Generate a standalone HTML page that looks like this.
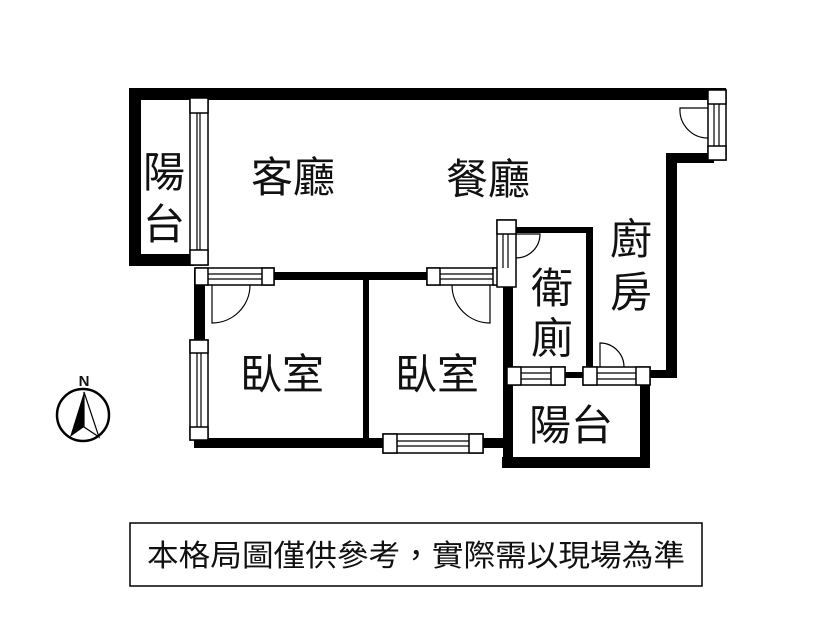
<!DOCTYPE html>
<html><head><meta charset="utf-8"><style>
html,body{margin:0;padding:0;background:#fff;}
svg{display:block}
text{font-family:"Liberation Sans","Noto Sans CJK TC",sans-serif;fill:#111}
</style></head><body>
<svg width="832" height="643" viewBox="0 0 832 643" xmlns="http://www.w3.org/2000/svg">
<g fill="#000">
<rect x="129" y="88" width="597" height="12"/>
<rect x="129" y="88" width="12" height="178"/>
<rect x="129" y="254" width="65" height="12"/>
<rect x="194" y="272" width="311" height="8"/>
<rect x="194" y="270" width="11" height="178"/>
<rect x="194" y="438" width="311" height="10"/>
<rect x="363" y="272" width="6" height="170"/>
<rect x="503" y="285" width="10" height="183"/>
<rect x="513" y="227" width="80" height="6"/>
<rect x="586" y="227" width="7" height="145"/>
<rect x="666" y="153" width="48" height="10"/>
<rect x="666" y="153" width="11" height="225"/>
<rect x="645" y="370" width="32" height="8"/>
<rect x="565" y="372" width="20" height="6"/>
<rect x="502" y="457" width="148" height="11"/>
<rect x="640" y="383" width="10" height="85"/>
</g>
<g fill="#fff" stroke="#000" stroke-width="1.5">
<rect x="190" y="98" width="18" height="167"/>
<rect x="190" y="98" width="18" height="15"/>
<rect x="190" y="250" width="18" height="15"/>
<rect x="195" y="268" width="79" height="17"/>
<rect x="195" y="268" width="13" height="17"/>
<rect x="262" y="268" width="12" height="17"/>
<rect x="427" y="268" width="80" height="17"/>
<rect x="427" y="268" width="13" height="17"/>
<rect x="493" y="268" width="14" height="17"/>
<rect x="190" y="340" width="18" height="100"/>
<rect x="190" y="340" width="18" height="13"/>
<rect x="190" y="427" width="18" height="13"/>
<rect x="383" y="434" width="100" height="19"/>
<rect x="383" y="434" width="14" height="19"/>
<rect x="469" y="434" width="14" height="19"/>
<rect x="497" y="220" width="19" height="67"/>
<rect x="497" y="220" width="19" height="14"/>
<rect x="708" y="90" width="18" height="70"/>
<rect x="708" y="90" width="18" height="14"/>
<rect x="708" y="146" width="18" height="14"/>
<rect x="507" y="367" width="58" height="18"/>
<rect x="507" y="367" width="14" height="18"/>
<rect x="551" y="367" width="14" height="18"/>
<rect x="583" y="367" width="67" height="18"/>
<rect x="583" y="367" width="14" height="18"/>
<rect x="636" y="367" width="14" height="18"/>
</g>
<g stroke="#000" stroke-width="1.2" fill="none">
<line x1="197" y1="113" x2="197" y2="250"/><line x1="200" y1="113" x2="200" y2="250"/>
<line x1="208" y1="274" x2="262" y2="274"/><line x1="208" y1="279" x2="262" y2="279"/>
<line x1="440" y1="274" x2="493" y2="274"/><line x1="440" y1="279" x2="493" y2="279"/>
<line x1="197" y1="353" x2="197" y2="427"/><line x1="201" y1="353" x2="201" y2="427"/>
<line x1="397" y1="441" x2="469" y2="441"/><line x1="397" y1="446" x2="469" y2="446"/>
<line x1="503" y1="234" x2="503" y2="268"/><line x1="508" y1="234" x2="508" y2="268"/>
<line x1="714" y1="104" x2="714" y2="146"/><line x1="719" y1="104" x2="719" y2="146"/>
<line x1="521" y1="373" x2="551" y2="373"/><line x1="521" y1="379" x2="551" y2="379"/>
<line x1="597" y1="373" x2="636" y2="373"/><line x1="597" y1="379" x2="636" y2="379"/>
<path d="M212 285 L212 323 A38 38 0 0 0 250 285"/>
<path d="M490 285 L490 323 A38 38 0 0 1 452 285"/>
<path d="M516 234 L540 234 A24 24 0 0 1 516 258"/>
<path d="M708 108 L680 108 A28 28 0 0 0 708 138"/>
<path d="M600 367 L600 343 A24 24 0 0 1 624 367"/>
</g>
<g font-size="42">
<text x="164" y="187" text-anchor="middle">陽</text>
<text x="164" y="239" text-anchor="middle">台</text>
<text x="293" y="192" text-anchor="middle">客廳</text>
<text x="488" y="194" text-anchor="middle">餐廳</text>
<text x="631" y="254" text-anchor="middle">廚</text>
<text x="631" y="307" text-anchor="middle">房</text>
<text x="552" y="303" text-anchor="middle">衛</text>
<text x="552" y="353" text-anchor="middle">廁</text>
<text x="282" y="389" text-anchor="middle">臥室</text>
<text x="437" y="389" text-anchor="middle">臥室</text>
<text x="571" y="440" text-anchor="middle">陽台</text>
</g>
<text x="84" y="386" font-size="15" font-weight="bold" text-anchor="middle">N</text>
<circle cx="83" cy="415" r="26" fill="none" stroke="#000" stroke-width="2.5"/>
<path d="M84 392 L70 437 L84 427 Z" fill="#000"/>
<path d="M84 392 L99 437 L84 427 Z" fill="none" stroke="#000" stroke-width="1.2"/>
<rect x="130" y="523" width="572" height="63" fill="#fff" stroke="#000" stroke-width="1.5"/>
<text x="416" y="566" font-size="30" text-anchor="middle" textLength="538" lengthAdjust="spacingAndGlyphs">本格局圖僅供參考，實際需以現場為準</text>
</svg>
</body></html>
